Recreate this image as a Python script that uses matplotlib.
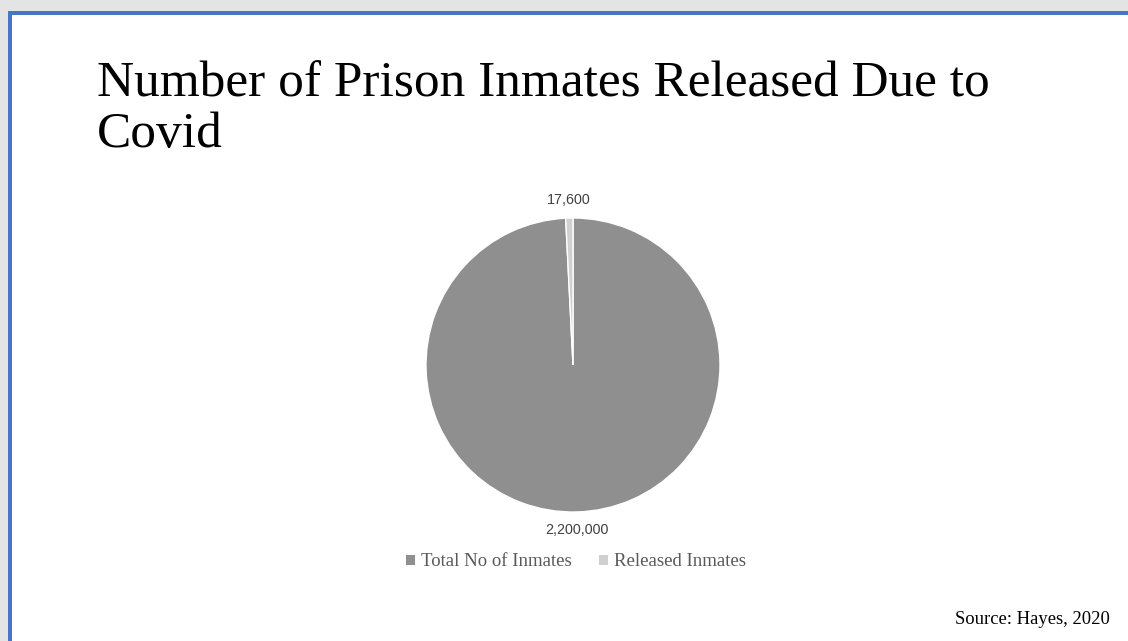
import matplotlib
matplotlib.use("Agg")
import matplotlib.pyplot as plt
from matplotlib.patches import Rectangle

# Data
categories = ["Total No of Inmates", "Released Inmates"]
values = [2200000, 17600]
colors = ["#8f8f8f", "#d0d0d0"]

title = "Number of Prison Inmates Released Due to\nCovid"
source = "Source: Hayes, 2020"

W, H = 1128, 641
fig = plt.figure(figsize=(W / 100, H / 100), dpi=100)
fig.patch.set_facecolor("white")

# slide frame: grey strip on top/left and a blue border
def px_rect(x, y, w, h, color):
    fig.patches.append(Rectangle((x / W, 1 - (y + h) / H), w / W, h / H,
                                 transform=fig.transFigure, color=color,
                                 zorder=0, lw=0))

px_rect(0, 0, W, 11, "#e4e4e4")
px_rect(0, 0, 8, H, "#e4e4e4")
px_rect(8, 11, W - 8, 4, "#4a74c8")
px_rect(8, 11, 4, H - 11, "#4a74c8")

fig.text(97 / W, 1 - 61 / H, title, fontsize=37, family="Liberation Serif",
         ha="left", va="top", linespacing=1.1, color="black")

# pie
cx, cy, r = 573, 365, 147
ax = fig.add_axes([(cx - r) / W, 1 - (cy + r) / H, 2 * r / W, 2 * r / H])
labels = [f"{v:,}" for v in values]
wedges, texts = ax.pie(values, labels=labels, colors=colors, startangle=90,
                       counterclock=False, labeldistance=1.12,
                       wedgeprops=dict(edgecolor="white", linewidth=1.0),
                       textprops=dict(fontsize=10.3, family="Liberation Sans",
                                      color="#404040"))
for t in texts:
    t.set_ha("center")
    t.set_va("center")
ax.set_xlim(-1, 1)
ax.set_ylim(-1, 1)
ax.set_aspect("equal")
ax.axis("off")

leg = fig.legend(wedges, categories, loc="center", bbox_to_anchor=(576 / W, 1 - 562 / H),
                 ncol=2, frameon=False, handlelength=0.48, handleheight=0.48,
                 handletextpad=0.3, columnspacing=1.5,
                 prop=dict(family="Liberation Serif", size=13.5))
for t in leg.get_texts():
    t.set_color("#595959")
for h in leg.legend_handles:
    h.set_edgecolor("none")

fig.text(1110 / W, 1 - 619 / H, source, fontsize=13.4, family="Liberation Serif",
         ha="right", va="center", color="black")

fig.savefig("out.png", dpi=100)
